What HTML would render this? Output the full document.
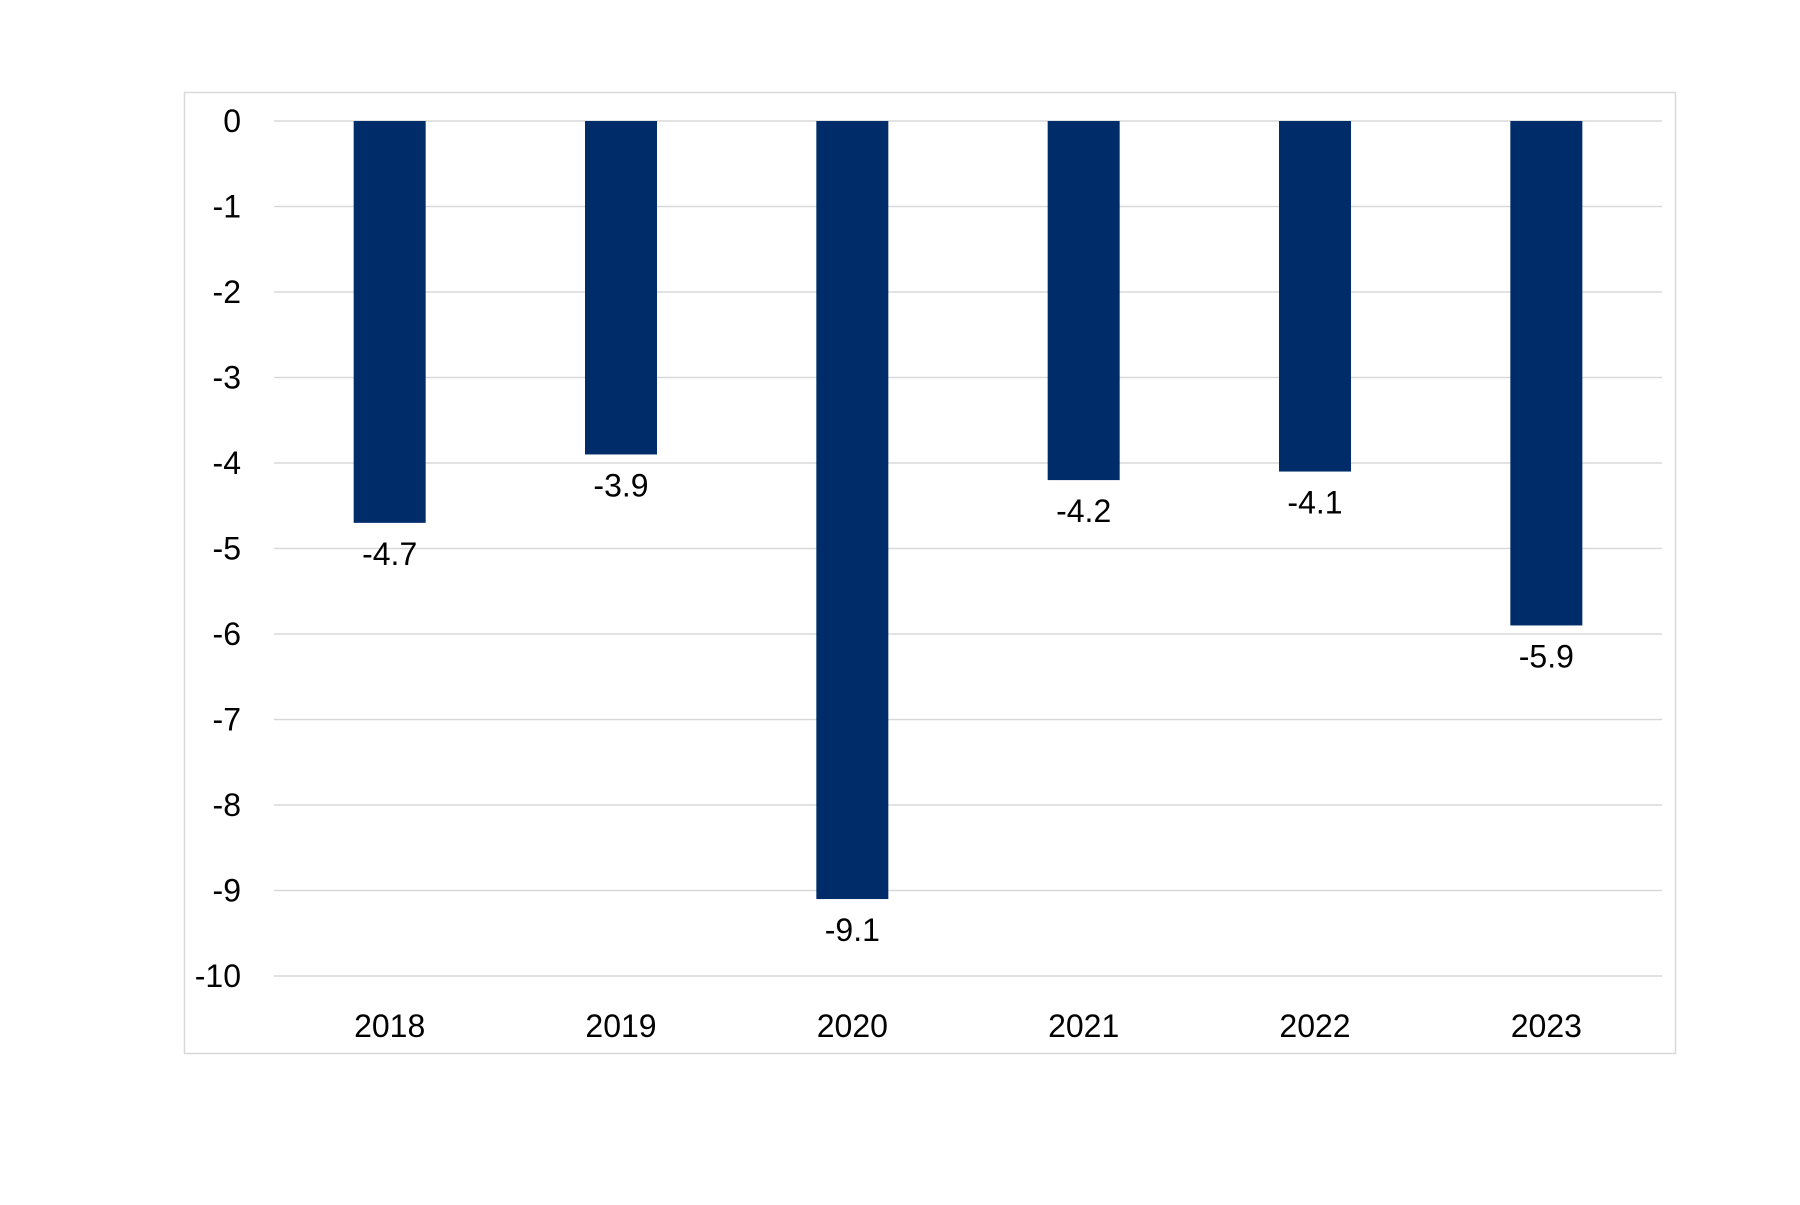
<!DOCTYPE html>
<html><head><meta charset="utf-8"><style>
html,body{margin:0;padding:0;background:#fff;}
svg text{font-family:"Liberation Sans","DejaVu Sans",sans-serif;fill:#000;}
</style></head><body>
<svg id="chart" width="1800" height="1200" xmlns="http://www.w3.org/2000/svg">
<rect x="184.5" y="92.5" width="1491" height="961" fill="#fff" stroke="#d9d9d9" stroke-width="1.5"/>
<g id="grid"></g><g id="bars"></g><g id="labels"></g>
</svg>
<script>
const categories=["2018","2019","2020","2021","2022","2023"];
const values=[-4.7,-3.9,-9.1,-4.2,-4.1,-5.9];
const yTicks=[0,-1,-2,-3,-4,-5,-6,-7,-8,-9,-10];
const NS="http://www.w3.org/2000/svg";
const plotL=274,plotR=1662,y0=121,pxPerUnit=85.5;
const y=v=>y0-v*pxPerUnit;
const band=(plotR-plotL)/categories.length;
const x=i=>plotL+band*(i+0.5);
const barW=72;
function mk(tag,attrs,parent,text){const e=document.createElementNS(NS,tag);for(const k in attrs)e.setAttribute(k,attrs[k]);if(text!==undefined)e.textContent=text;parent.appendChild(e);return e;}
const grid=document.getElementById('grid'),bars=document.getElementById('bars'),labels=document.getElementById('labels');
yTicks.forEach(t=>{
  const l=mk('line',{x1:plotL,x2:plotR,y1:y(t),y2:y(t),stroke:'#d9d9d9','stroke-width':1.5},grid);
  
  
  const tx=mk('text',{x:241,y:y(t)+11,'text-anchor':'end','font-size':32},grid,String(t));
  
  
});
categories.forEach((c,i)=>{
  const v=values[i];
  const r=mk('rect',{x:x(i)-barW/2,y:y(0),width:barW,height:y(v)-y(0),fill:'#002D69'},bars);
  
  
  const vl=mk('text',{x:x(i),y:y(v)+42,'text-anchor':'middle','font-size':32},labels,v.toFixed(1));
  
  
  const cl=mk('text',{x:x(i),y:1037,'text-anchor':'middle','font-size':32},labels,c);
  
  
});
</script>
</body></html>
